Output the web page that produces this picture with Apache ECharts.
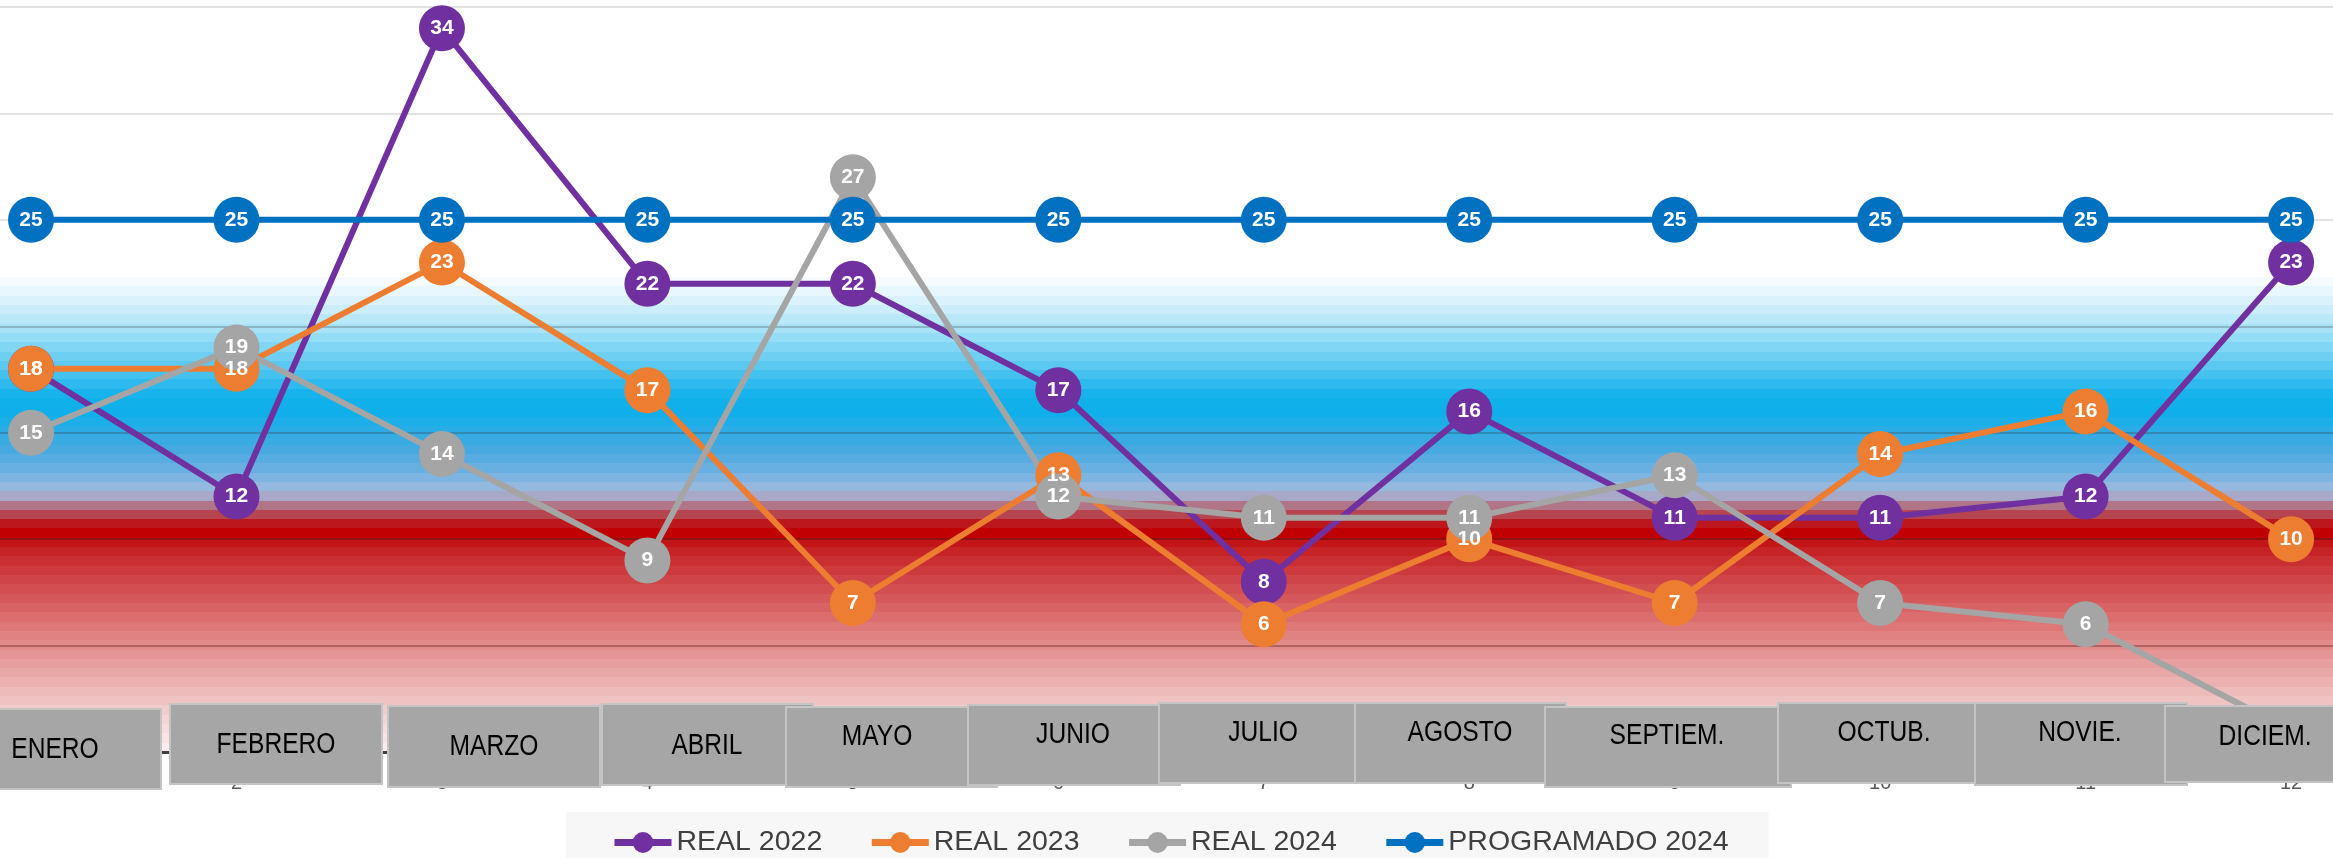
<!DOCTYPE html>
<html><head><meta charset="utf-8">
<script src="https://cdn.jsdelivr.net/npm/echarts@6/dist/echarts.min.js"></script>
<style>html,body{margin:0;padding:0;background:#fff}#c{width:2333px;height:858px}</style>
</head><body><div id="c"></div>
<script>
// ---- data ----
const months = ['ENERO','FEBRERO','MARZO','ABRIL','MAYO','JUNIO','JULIO','AGOSTO','SEPTIEM.','OCTUB.','NOVIE.','DICIEM.'];
const monthNumbers = [1,2,3,4,5,6,7,8,9,10,11,12];
const real2022 = [18,12,34,22,22,17,8,16,11,11,12,23];
const real2023 = [18,18,23,17,7,13,6,10,7,14,16,10];
const real2024 = [15,19,14,9,27,12,11,11,13,7,6,1];
const programado2024 = [25,25,25,25,25,25,25,25,25,25,25,25];
const seriesNames = ['REAL 2022','REAL 2023','REAL 2024','PROGRAMADO 2024'];
const seriesColors = ['#7030A0','#ED7D31','#A5A5A5','#0070C0'];

// ---- layout of the month boxes (pixels: left, top, right, bottom, text centre x, text centre y) ----
const boxLayout = [
  [-51,709,161,789,55,750],
  [170,704,382,784,276,745],
  [388,706,600,787,494,747],
  [602,704,813,785,707,746],
  [786,707,997,787,877,737],
  [968,705,1180,785,1073,735],
  [1159,703,1370,783,1263,733],
  [1355,703,1566,783,1460,733],
  [1545,707,1791,787,1667,736],
  [1778,703,1990,783,1884,733],
  [1975,703,2187,785,2080,733],
  [2165,706,2377,782,2265,737]
];

const FONT = "'Liberation Sans',Arial,sans-serif";

// ---- plot-area background: banded vertical gradient ----
const bgKeys = [
  [0,'#FFFFFF'],[0.362,'#FFFFFF'],[0.375,'#EEF9FE'],[0.392,'#DCF3FC'],[0.410,'#C6EDFA'],
  [0.428,'#ACE4F7'],[0.454,'#86D7F5'],[0.487,'#52C5F1'],[0.518,'#18B3EC'],[0.540,'#0AAFEB'],
  [0.568,'#29ADE6'],[0.599,'#4CA9E0'],[0.626,'#74B3E3'],[0.645,'#97B8DE'],[0.658,'#ABA6C6'],
  [0.668,'#B0788A'],[0.680,'#B54A55'],[0.692,'#BA1A20'],[0.706,'#C00000'],[0.722,'#C41A1E'],
  [0.756,'#CC3A3E'],[0.796,'#D65A5C'],[0.836,'#DF7C7C'],[0.876,'#E69A9A'],[0.917,'#EEBABA'],
  [0.957,'#F4D4D4'],[1,'#FBF0F0']
];
function hex2rgb(h){return [1,3,5].map(i=>parseInt(h.substr(i,2),16));}
function colorAt(t){
  for(let i=0;i<bgKeys.length-1;i++){
    const a=bgKeys[i],b=bgKeys[i+1];
    if(t>=a[0]&&t<=b[0]){
      const f=(t-a[0])/((b[0]-a[0])||1),ca=hex2rgb(a[1]),cb=hex2rgb(b[1]);
      return 'rgb('+ca.map((c,j)=>Math.round(c+(cb[j]-c)*f)).join(',')+')';
    }
  }
  return bgKeys[bgKeys.length-1][1];
}
const bandStops=[];
const STEP=0.0125;
for(let s=0;s<1-1e-9;s+=STEP){
  const e=Math.min(1,s+STEP);
  const c=colorAt((s+e)/2);
  bandStops.push({offset:s,color:c},{offset:e,color:c});
}
const bg = new echarts.graphic.LinearGradient(0,0,0,1,bandStops);

// gridline colours from value 0 upwards (they look darker over the coloured bands)
const gridColors = ['#404040','#9E5555','#7B1111','#3A7FA3','#7FA6B5','#D9D9D9','#D9D9D9','#D9D9D9'];

const chart = echarts.init(document.getElementById('c'), null, {renderer:'canvas'});
const seriesData = [real2022, real2023, real2024, programado2024];

const graphics = [];
months.forEach((m,i)=>{
  const b = boxLayout[i];
  graphics.push({type:'rect', z:100, shape:{x:b[0],y:b[1],width:b[2]-b[0],height:b[3]-b[1]},
    style:{fill:'#A6A6A6',stroke:'#C4C4C4',lineWidth:2}});
  graphics.push({type:'text', z:101, x:b[4], y:b[5], scaleX:0.82,
    style:{text:m, fill:'#000000', font:'30px '+FONT, align:'center', verticalAlign:'middle'}});
});

chart.setOption({
  animation:false,
  backgroundColor:'#FFFFFF',
  grid:{left:0,right:0,top:7,bottom:106,show:true,backgroundColor:bg,borderWidth:0},
  xAxis:{type:'value',min:0.849,max:12.204,
    axisLine:{show:true,lineStyle:{color:'#404040',width:3}},
    axisTick:{show:false},
    splitLine:{show:false},
    axisLabel:{customValues:monthNumbers,fontSize:20,color:'#595959',margin:21,fontFamily:FONT}},
  yAxis:{type:'value',min:0,max:35,interval:5,
    axisLine:{show:false},axisTick:{show:false},axisLabel:{show:false},
    splitLine:{show:true,lineStyle:{color:gridColors,width:1.5}}},
  legend:{data:seriesNames,left:566,top:812,padding:[16,40,18,45],backgroundColor:'#F7F7F7',
    itemWidth:57,itemHeight:26,itemGap:46,
    lineStyle:{width:7},
    textStyle:{fontSize:28.5,color:'#404040',fontFamily:FONT}},
  graphic:graphics,
  series:seriesData.map((arr,k)=>({
    name:seriesNames[k],type:'line',clip:false,
    data:arr.map((v,i)=>[monthNumbers[i],v]),
    symbol:'circle',symbolSize:46,
    lineStyle:{width:6,color:seriesColors[k]},
    itemStyle:{color:seriesColors[k]},
    label:{show:true,position:'inside',color:'#FFFFFF',fontWeight:'bold',fontSize:21,fontFamily:FONT}
  }))
});
</script></body></html>
